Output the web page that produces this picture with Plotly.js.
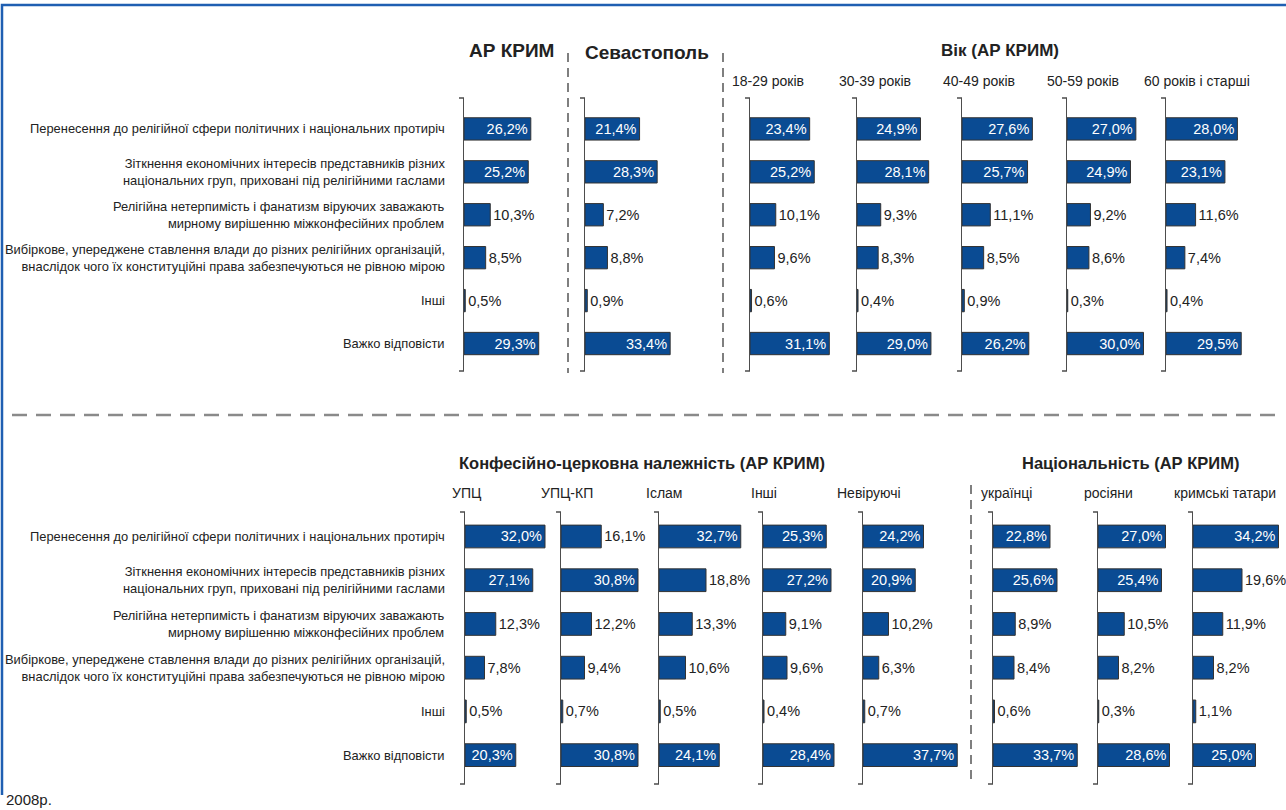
<!DOCTYPE html>
<html>
<head>
<meta charset="utf-8">
<script src="https://cdn.plot.ly/plotly-3.0.1.min.js"></script>
<style>html,body{margin:0;padding:0;background:#fff;}#chart{width:1286px;height:810px;}</style>
</head>
<body>
<div id="chart"></div>
<script>
// ---------- DATA ----------
const categories = [
  'Перенесення до релігійної сфери політичних і національних протиріч',
  'Зіткнення економічних інтересів представників різних<br>національних груп, приховані під релігійними гаслами',
  'Релігійна нетерпимість і фанатизм віруючих заважають<br>мирному вирішенню міжконфесійних проблем',
  'Вибіркове, упереджене ставлення влади до різних релігійних організацій,<br>внаслідок чого їх конституційні права забезпечуються не рівною мірою',
  'Інші',
  'Важко відповісти'
];

const topHeaders = ['АР КРИМ', 'Севастополь', 'Вік (АР КРИМ)'];
const ageGroups = ['18-29 років', '30-39 років', '40-49 років', '50-59 років', '60 років і старші'];
const bottomHeaders = ['Конфесійно-церковна належність (АР КРИМ)', 'Національність (АР КРИМ)'];
const confessions = ['УПЦ', 'УПЦ-КП', 'Іслам', 'Інші', 'Невіруючі'];
const nationalities = ['українці', 'росіяни', 'кримські татари'];
const yearNote = '2008р.';

const crimea     = [26.2, 25.2, 10.3, 8.5, 0.5, 29.3];
const sevastopol = [21.4, 28.3,  7.2, 8.8, 0.9, 33.4];
const age18_29   = [23.4, 25.2, 10.1, 9.6, 0.6, 31.1];
const age30_39   = [24.9, 28.1,  9.3, 8.3, 0.4, 29.0];
const age40_49   = [27.6, 25.7, 11.1, 8.5, 0.9, 26.2];
const age50_59   = [27.0, 24.9,  9.2, 8.6, 0.3, 30.0];
const age60plus  = [28.0, 23.1, 11.6, 7.4, 0.4, 29.5];
const upc        = [32.0, 27.1, 12.3, 7.8, 0.5, 20.3];
const upcKp      = [16.1, 30.8, 12.2, 9.4, 0.7, 30.8];
const islam      = [32.7, 18.8, 13.3, 10.6, 0.5, 24.1];
const otherRel   = [25.3, 27.2,  9.1, 9.6, 0.4, 28.4];
const nonBeliev  = [24.2, 20.9, 10.2, 6.3, 0.7, 37.7];
const ukrainians = [22.8, 25.6,  8.9, 8.4, 0.6, 33.7];
const russians   = [27.0, 25.4, 10.5, 8.2, 0.3, 28.6];
const tatars     = [34.2, 19.6, 11.9, 8.2, 1.1, 25.0];

const topSeries = [crimea, sevastopol, age18_29, age30_39, age40_49, age50_59, age60plus];
const bottomSeries = [upc, upcKp, islam, otherRel, nonBeliev, ukrainians, russians, tatars];

// ---------- LAYOUT GEOMETRY (pixels) ----------
const W = 1286, H = 810;
const px = x => x / W;
const py = y => 1 - y / H;

const FONT = '"Liberation Sans", Arial, Helvetica, sans-serif';
const BAR = '#0a4b93';
const AXC = '#4d4d4d';

const topAxisX = [464, 585, 750, 857, 962, 1067, 1166];
const botAxisX = [465, 561, 659, 763, 863, 993, 1098, 1193];
const rows = [
  {series: topSeries, axX: topAxisX, y0: 98, y1: 371, range: [5.64, -0.72], scale: 2.55},
  {series: bottomSeries, axX: botAxisX, y0: 512, y1: 784, range: [5.66, -0.56], scale: 2.5}
];

const data = [];
const layout = {
  width: W, height: H,
  margin: {l: 0, r: 0, t: 0, b: 0},
  paper_bgcolor: '#ffffff', plot_bgcolor: 'rgba(0,0,0,0)',
  showlegend: false,
  separators: ', ',
  font: {family: FONT, size: 14, color: '#222'},
  shapes: [], annotations: []
};

let n = 0;
const firstAxisOfRow = [];
rows.forEach((row, ri) => {
  row.series.forEach((vals, pi) => {
    n += 1;
    const sfx = n === 1 ? '' : String(n);
    if (pi === 0) firstAxisOfRow.push('y' + sfx);
    const x0 = row.axX[pi];
    const pw = Math.min(100, W - 1 - x0);
    data.push({
      type: 'bar', orientation: 'h',
      x: vals, y: categories,
      xaxis: 'x' + sfx, yaxis: 'y' + sfx,
      width: 0.52,
      marker: {color: BAR, line: {color: '#333333', width: 1}},
      texttemplate: '%{x:.1f}%',
      textposition: vals.map(v => v >= 20 ? 'inside' : 'outside'),
      insidetextanchor: 'end',
      insidetextfont: {family: FONT, size: 14.5, color: '#ffffff'},
      outsidetextfont: {family: FONT, size: 14.5, color: '#222222'},
      constraintext: 'none',
      cliponaxis: false,
      hoverinfo: 'skip'
    });
    layout['xaxis' + sfx] = {
      domain: [px(x0), px(x0 + pw)], range: [0, pw / row.scale],
      anchor: 'y' + sfx, showgrid: false, zeroline: false, showline: false,
      showticklabels: false, ticks: '', fixedrange: true
    };
    layout['yaxis' + sfx] = {
      domain: [py(row.y1), py(row.y0)], type: 'category',
      categoryorder: 'array', categoryarray: categories,
      range: row.range, anchor: 'x' + sfx,
      showgrid: false, zeroline: false, showticklabels: false, ticks: '',
      showline: true, linecolor: AXC, linewidth: 1.5, fixedrange: true
    };
    // end ticks
    [row.y0, row.y1].forEach(yy => {
      layout.shapes.push({type: 'line', xref: 'paper', yref: 'paper',
        x0: px(x0 - 5), x1: px(x0), y0: py(yy), y1: py(yy),
        line: {color: AXC, width: 1.5}});
    });
  });
});

// category labels for each row
rows.forEach((row, ri) => {
  categories.forEach((c, ci) => {
    layout.annotations.push({
      xref: 'paper', yref: firstAxisOfRow[ri], x: px(447), y: ci,
      text: c, showarrow: false, xanchor: 'right', yanchor: 'middle', align: 'right',
      font: {family: FONT, size: 12.9, color: '#222'}
    });
  });
});

// headers
function txt(text, x, y, size, bold, anchor, yanchor) {
  layout.annotations.push({
    xref: 'paper', yref: 'paper', x: px(x), y: py(y), text: bold ? '<b>' + text + '</b>' : text,
    showarrow: false, xanchor: anchor || 'center', yanchor: yanchor || 'middle', borderpad: 0,
    font: {family: FONT, size: size, color: '#222'}
  });
}
txt(topHeaders[0], 511, 50, 19, true);
txt(topHeaders[1], 647, 52, 19, true);
txt(topHeaders[2], 1000, 50, 17, true);
const ageLabelX = [731, 838, 942, 1046, 1143];
ageGroups.forEach((g, i) => txt(g, ageLabelX[i], 81, 14, false, 'left'));
txt(bottomHeaders[0], 642, 463, 16.5, true);
txt(bottomHeaders[1], 1130, 463, 16.5, true);
const subLabelX = [451, 540, 645, 750, 836, 980, 1083, 1173];
confessions.concat(nationalities).forEach((g, i) => txt(g, subLabelX[i], 493, 14, false, 'left'));
txt(yearNote, 5, 809, 15, false, 'left', 'bottom');

// separators
const vDash = {color: '#555', width: 1.5, dash: '9px,6px'};
[[568, 53, 373], [723, 53, 373], [971, 485, 785]].forEach(s => {
  layout.shapes.push({type: 'line', xref: 'paper', yref: 'paper',
    x0: px(s[0]), x1: px(s[0]), y0: py(s[1]), y1: py(s[2]), line: vDash});
});
layout.shapes.push({type: 'line', xref: 'paper', yref: 'paper',
  x0: px(12), x1: px(1277), y0: py(415), y1: py(415),
  line: {color: '#8a8a8a', width: 2.5, dash: '15px,9px'}});
// frame
layout.shapes.push({type: 'path', xref: 'paper', yref: 'paper',
  path: `M ${px(2)} ${py(795)} L ${px(2)} ${py(5)} L ${px(1286)} ${py(5)}`,
  line: {color: '#1f5fb2', width: 2.5}});

Plotly.newPlot('chart', data, layout, {staticPlot: true, displayModeBar: false});
</script>
</body>
</html>
